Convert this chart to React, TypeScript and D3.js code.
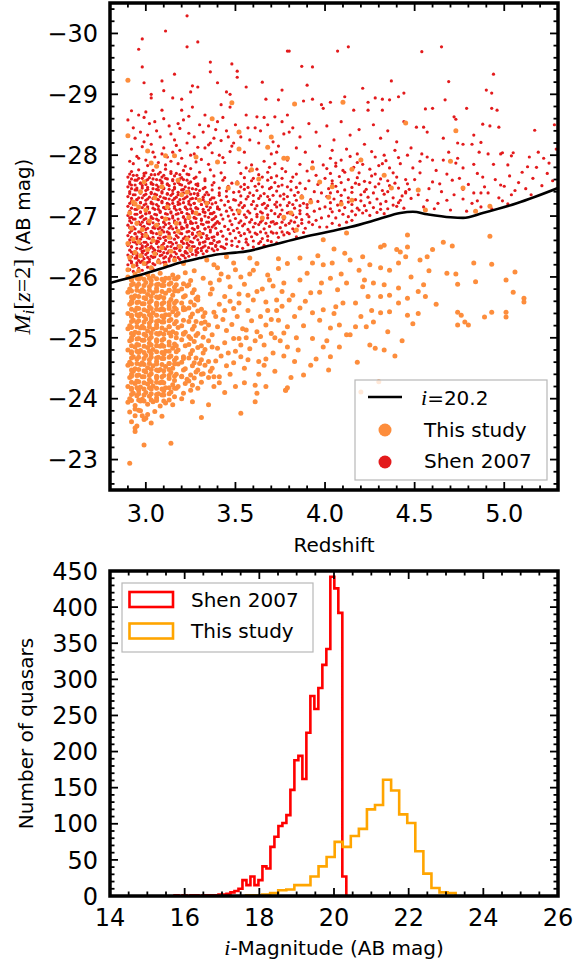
import React from 'react';
import * as d3 from 'd3';

// ---------------- DATA ----------------
// i = 20.2 limit curve (redshift, absolute magnitude)
const LIMIT_Z = [2.80, 2.90, 3.00, 3.11, 3.20, 3.30, 3.38, 3.50, 3.56, 3.70, 3.86, 4.00, 4.14, 4.30, 4.42, 4.49, 4.57, 4.70, 4.77, 4.88, 5.07, 5.30];
const LIMIT_M = [-25.90, -25.98, -26.06, -26.16, -26.24, -26.31, -26.36, -26.40, -26.42, -26.52, -26.64, -26.73, -26.82, -26.95, -27.05, -27.07, -27.03, -26.98, -26.97, -27.05, -27.21, -27.46];

// Shen 2007 quasars: "redshift |M_i|" pairs (M_i is negative)
const SHEN_2007_PTS = `
3.23 30.29 3.11 30.04 2.98 29.91 3.29 29.86 3.23 29.78 2.96 29.74 3.80 29.71 2.98 29.45 3.36 29.53 3.48 29.50
3.51 29.38 3.36 29.37 3.16 29.33 3.09 29.22 2.99 29.19 3.26 29.14 3.29 29.12 3.40 29.19 3.51 29.28 3.65 29.20
3.76 29.07 3.56 29.12 3.45 29.04 3.47 29.00 3.03 29.00 3.03 28.94 3.10 29.06 3.15 28.94 3.20 28.92 3.25 29.04
3.67 28.92 3.74 28.91 3.42 28.83 3.47 28.79 3.26 28.79 3.20 28.74 3.09 28.74 3.00 28.71 2.92 28.73 2.96 28.66
3.33 28.66 3.56 28.66 3.62 28.63 3.72 28.63 3.79 28.66
3.79 29.71 4.07 29.71 4.13 29.78 4.54 29.70 4.65 29.78 3.87 29.46 3.93 29.45 4.37 29.22 4.69 29.21 4.94 29.33
4.90 29.07 4.93 29.02 4.21 29.10 4.44 29.02 4.41 28.96 3.90 29.15 4.11 28.96 4.28 28.94 4.32 28.92 4.36 28.91
4.67 28.91 3.88 28.89 3.93 28.92 4.03 28.87 4.24 28.87 3.98 28.83 3.99 28.77 4.16 28.74 4.24 28.74 4.32 28.74
4.56 28.76 4.60 28.77 4.79 28.77 4.93 28.77 4.96 28.74 4.72 28.63 4.73 28.59 4.88 28.51 4.92 28.48 4.97 28.46
4.83 28.33 5.17 28.41 5.28 28.50 4.51 28.46 4.55 28.46 4.57 28.38 4.66 28.28 4.74 28.20 4.77 28.18 4.82 28.18
4.87 28.21 4.86 28.05 4.91 28.02 4.99 28.04 5.05 28.04 5.14 27.97 5.19 28.05 5.25 27.87 5.13 27.81 5.02 27.84
5.03 27.66 4.98 27.51 4.88 27.64 4.83 27.38 4.87 27.38 4.91 27.38 4.77 27.44 4.71 27.59 4.68 27.69 4.64 27.53
4.60 27.56 4.53 27.71 4.49 27.79 4.46 27.53 4.45 27.40 4.42 27.26 4.38 27.18 4.57 27.26 4.63 27.21 4.68 27.26
4.77 27.28 4.82 27.21 4.87 27.15 4.97 27.30 5.04 27.35 5.00 27.49 4.60 27.92 4.66 27.92 4.54 28.02 4.57 27.97
4.73 27.87 4.77 27.79 4.83 27.85 4.98 28.02 5.04 27.99
3.82 28.45 3.86 28.30 3.91 28.52 3.95 28.38 4.01 28.48 4.05 28.25 4.09 28.55 4.14 28.33 4.19 28.42 4.22 28.18
4.27 28.50 4.31 28.28 4.35 28.40 4.40 28.22 4.44 28.55 4.48 28.12 3.84 28.12 3.89 28.05 3.97 28.15 4.04 28.08
4.12 28.10 4.18 28.02 4.26 28.06 4.33 28.00 4.39 28.08 4.46 28.00
5.08 27.55 5.12 27.45 5.16 27.62 5.21 27.50 5.24 27.70 5.27 27.58 5.10 27.72 5.18 27.80 5.22 27.95 5.29 28.10
5.06 27.42 5.15 27.35
4.52 27.35 4.55 27.15 4.58 27.45 4.61 27.12 4.65 27.40 4.70 27.10 4.72 27.35 4.75 27.62 4.79 27.08 4.80 27.52
4.85 27.25 4.89 27.48 4.93 27.12 4.95 27.60 4.99 27.25 5.02 27.20 4.50 27.60 4.62 27.75 4.74 27.95 4.85 27.70
4.94 27.85 4.53 27.90 4.69 28.05
4.01 26.82 4.04 26.88 4.08 26.85 4.12 26.90 4.15 26.93
4.02 27.00 4.06 26.97 4.10 27.03 4.13 26.99 4.17 27.02 4.21 27.05 4.25 27.01 4.29 27.06 4.33 27.04
4.00 27.15 4.03 27.12 4.07 27.18 4.11 27.14 4.15 27.19 4.18 27.13 4.22 27.17 4.27 27.14 4.31 27.20 4.35 27.12 4.40 27.16 4.44 27.13
4.01 27.32 4.05 27.28 4.09 27.34 4.13 27.30 4.17 27.27 4.20 27.35 4.24 27.31 4.29 27.28 4.33 27.36 4.38 27.30 4.43 27.33 4.48 27.29
4.02 27.45 4.06 27.49 4.11 27.43 4.15 27.47 4.19 27.52 4.23 27.44 4.28 27.48 4.32 27.42 4.36 27.50 4.41 27.46 4.47 27.44
4.00 27.62 4.04 27.58 4.08 27.65 4.13 27.60 4.18 27.63 4.22 27.57 4.26 27.66 4.31 27.61 4.35 27.58 4.40 27.64 4.45 27.60
4.01 27.78 4.06 27.82 4.10 27.75 4.16 27.80 4.21 27.85 4.25 27.77 4.30 27.83 4.36 27.79 4.42 27.86
4.03 27.95 4.09 27.92 4.14 27.98 4.20 27.93 4.28 27.97 4.34 27.91 4.41 27.96
4.04 27.07 4.08 27.09 4.15 27.08 4.19 27.10 4.23 27.09 4.31 27.11
4.03 27.22 4.09 27.24 4.13 27.23 4.20 27.25 4.25 27.22 4.34 27.24 4.41 27.22
4.03 27.38 4.07 27.40 4.15 27.39 4.22 27.40 4.27 27.38 4.35 27.40 4.45 27.38
4.04 27.53 4.09 27.55 4.17 27.54 4.25 27.55 4.30 27.53 4.39 27.54
4.03 27.70 4.11 27.72 4.19 27.71 4.28 27.69 4.38 27.71
4.06 27.87 4.18 27.88 4.32 27.86
3.51 26.50 3.54 26.47 3.57 26.53 3.60 26.49 3.63 26.55 3.66 26.52 3.70 26.58 3.73 26.56
3.50 26.64 3.53 26.68 3.56 26.62 3.59 26.66 3.62 26.70 3.65 26.63 3.68 26.67 3.71 26.72 3.74 26.65 3.77 26.69 3.80 26.71 3.84 26.66 3.88 26.73
3.51 26.80 3.54 26.84 3.57 26.78 3.60 26.82 3.63 26.86 3.66 26.79 3.69 26.83 3.72 26.87 3.75 26.81 3.78 26.85 3.82 26.79 3.85 26.84 3.89 26.80 3.93 26.86 3.97 26.82
3.50 26.96 3.53 26.92 3.56 26.98 3.59 26.94 3.62 26.99 3.65 26.93 3.68 26.97 3.71 26.91 3.74 26.99 3.77 26.95 3.81 26.92 3.84 26.98 3.87 26.94 3.91 26.99 3.95 26.93 3.98 26.97
3.51 27.10 3.54 27.14 3.57 27.08 3.61 27.12 3.64 27.07 3.67 27.13 3.70 27.09 3.73 27.15 3.76 27.10 3.80 27.06 3.83 27.13 3.86 27.09 3.90 27.14 3.94 27.08 3.97 27.12
3.50 27.26 3.53 27.22 3.56 27.28 3.60 27.24 3.63 27.29 3.66 27.21 3.69 27.27 3.73 27.23 3.77 27.28 3.80 27.22 3.84 27.26 3.88 27.21 3.92 27.27 3.96 27.24
3.52 27.40 3.55 27.44 3.58 27.38 3.62 27.42 3.66 27.37 3.69 27.45 3.73 27.41 3.77 27.36 3.81 27.43 3.85 27.39 3.89 27.45 3.94 27.40 3.98 27.38
3.51 27.56 3.55 27.52 3.59 27.58 3.63 27.53 3.68 27.59 3.72 27.55 3.76 27.51 3.81 27.57 3.86 27.54 3.91 27.58 3.96 27.52
3.53 27.70 3.58 27.74 3.63 27.68 3.68 27.72 3.73 27.66 3.78 27.73 3.84 27.69 3.90 27.74 3.95 27.67
3.52 27.88 3.59 27.84 3.66 27.90 3.72 27.86 3.79 27.92 3.86 27.85 3.93 27.89 3.99 27.84
3.52 26.58 3.56 26.57 3.60 26.59 3.64 26.58 3.68 26.60
3.52 26.73 3.55 26.71 3.58 26.74 3.61 26.72 3.64 26.74 3.67 26.72 3.70 26.74 3.73 26.72 3.76 26.74 3.79 26.73 3.83 26.75
3.52 26.89 3.55 26.87 3.58 26.90 3.61 26.88 3.64 26.90 3.67 26.88 3.70 26.90 3.73 26.88 3.76 26.90 3.80 26.88 3.83 26.90 3.87 26.88 3.91 26.90
3.52 27.04 3.55 27.02 3.58 27.05 3.62 27.03 3.65 27.05 3.68 27.02 3.72 27.04 3.75 27.03 3.79 27.05 3.82 27.02 3.86 27.04 3.90 27.03
3.52 27.18 3.55 27.17 3.59 27.19 3.62 27.17 3.65 27.19 3.68 27.17 3.72 27.19 3.75 27.18 3.79 27.17 3.82 27.19 3.86 27.17 3.90 27.19
3.53 27.33 3.57 27.32 3.60 27.34 3.64 27.33 3.68 27.32 3.71 27.34 3.75 27.33 3.79 27.32 3.83 27.34 3.87 27.33
3.53 27.48 3.57 27.47 3.61 27.49 3.65 27.48 3.70 27.47 3.74 27.49 3.79 27.48 3.84 27.47
3.55 27.63 3.60 27.62 3.65 27.64 3.70 27.63 3.76 27.62 3.82 27.64
3.56 27.79 3.62 27.77 3.69 27.80 3.76 27.78
3.55 28.05 3.63 28.20 3.70 28.02 3.77 28.35 3.61 28.45 3.53 28.30 3.74 28.15 3.68 28.50
3.58 28.25 3.64 28.40 3.71 28.22 3.76 28.55 3.66 28.62 3.80 28.38 3.57 28.45 3.73 28.05
2.91 26.12 2.93 26.09 2.96 26.14 2.98 26.11 3.01 26.16 3.04 26.13
2.90 26.20 2.92 26.23 2.95 26.19 2.97 26.24 3.00 26.21 3.02 26.25 3.05 26.20 3.08 26.23 3.11 26.24
2.91 26.28 2.94 26.31 2.96 26.27 2.99 26.30 3.02 26.29 3.04 26.32 3.07 26.28 3.10 26.31 3.13 26.30 3.16 26.32 3.19 26.29 3.22 26.31
2.90 26.36 2.93 26.38 2.95 26.35 2.98 26.39 3.00 26.37 3.03 26.34 3.06 26.38 3.09 26.36 3.12 26.39 3.14 26.35 3.17 26.38 3.20 26.36 3.23 26.39 3.26 26.37 3.29 26.40 3.32 26.38
2.91 26.44 2.94 26.42 2.97 26.46 2.99 26.43 3.02 26.47 3.05 26.44 3.08 26.42 3.11 26.46 3.13 26.43 3.16 26.47 3.19 26.44 3.22 26.42 3.25 26.46 3.28 26.44 3.31 26.47 3.34 26.43 3.37 26.46 3.40 26.45 3.44 26.47
2.90 26.52 2.92 26.50 2.95 26.54 2.98 26.51 3.01 26.53 3.03 26.50 3.06 26.55 3.09 26.52 3.12 26.50 3.15 26.54 3.18 26.51 3.21 26.55 3.24 26.52 3.27 26.50 3.30 26.54 3.33 26.51 3.36 26.55 3.39 26.52 3.42 26.50 3.45 26.54 3.48 26.52
2.91 26.61 2.93 26.58 2.97 26.62 2.99 26.57 3.02 26.63 3.06 26.59 3.07 26.64 3.11 26.60 3.14 26.57 3.16 26.62 3.20 26.59 3.23 26.64 3.25 26.58 3.29 26.61 3.32 26.57 3.35 26.63 3.38 26.60 3.41 26.58 3.45 26.62 3.48 26.59
2.90 26.68 2.94 26.71 2.95 26.66 2.98 26.70 3.01 26.67 3.04 26.72 3.08 26.69 3.10 26.65 3.13 26.70 3.17 26.68 3.19 26.72 3.22 26.66 3.26 26.70 3.28 26.67 3.31 26.71 3.34 26.68 3.37 26.65 3.40 26.70 3.43 26.67 3.47 26.71
2.92 26.76 2.93 26.79 2.96 26.74 3.00 26.78 3.03 26.75 3.05 26.80 3.09 26.77 3.12 26.74 3.15 26.79 3.18 26.76 3.21 26.80 3.24 26.75 3.27 26.78 3.30 26.74 3.33 26.79 3.36 26.77 3.39 26.80 3.42 26.75 3.46 26.78 3.49 26.76
2.90 26.85 2.93 26.82 2.97 26.86 2.99 26.83 3.02 26.87 3.05 26.84 3.08 26.81 3.11 26.86 3.14 26.83 3.17 26.87 3.20 26.82 3.23 26.85 3.26 26.88 3.29 26.83 3.32 26.86 3.35 26.82 3.38 26.85 3.41 26.88 3.44 26.83 3.48 26.86
2.91 26.92 2.94 26.95 2.96 26.90 2.99 26.94 3.01 26.91 3.04 26.96 3.07 26.93 3.10 26.90 3.13 26.95 3.16 26.92 3.19 26.89 3.22 26.94 3.25 26.91 3.28 26.96 3.31 26.93 3.34 26.90 3.37 26.94 3.40 26.91 3.43 26.95 3.47 26.92
2.90 27.01 2.92 26.98 2.95 27.03 2.98 27.00 3.00 27.04 3.03 26.99 3.06 27.02 3.09 26.98 3.12 27.03 3.15 27.00 3.18 27.04 3.21 26.99 3.24 27.02 3.27 26.98 3.30 27.03 3.33 27.00 3.36 27.04 3.39 26.99 3.42 27.02 3.46 27.00 3.49 27.03
2.91 27.08 2.94 27.11 2.97 27.07 3.00 27.10 3.02 27.06 3.05 27.11 3.08 27.08 3.11 27.12 3.14 27.07 3.17 27.10 3.20 27.06 3.23 27.11 3.26 27.08 3.29 27.12 3.32 27.07 3.35 27.10 3.38 27.06 3.41 27.11 3.45 27.08 3.48 27.10
2.90 27.16 2.93 27.19 2.96 27.14 2.99 27.18 3.01 27.15 3.04 27.20 3.07 27.16 3.10 27.14 3.13 27.19 3.16 27.16 3.19 27.20 3.22 27.15 3.25 27.18 3.28 27.14 3.31 27.19 3.34 27.16 3.37 27.20 3.40 27.15 3.44 27.18 3.47 27.14
2.92 27.24 2.95 27.27 2.97 27.22 3.00 27.26 3.03 27.23 3.06 27.28 3.09 27.24 3.12 27.21 3.15 27.26 3.18 27.23 3.21 27.28 3.24 27.24 3.27 27.21 3.30 27.26 3.33 27.23 3.36 27.27 3.39 27.22 3.42 27.26 3.46 27.24 3.49 27.27
2.90 27.32 2.93 27.35 2.96 27.30 2.99 27.34 3.02 27.31 3.05 27.36 3.08 27.32 3.11 27.29 3.14 27.34 3.17 27.31 3.20 27.36 3.23 27.32 3.26 27.29 3.29 27.34 3.32 27.31 3.35 27.35 3.38 27.30 3.41 27.34 3.45 27.32
2.91 27.40 2.94 27.43 2.97 27.38 3.00 27.42 3.03 27.39 3.06 27.44 3.09 27.40 3.12 27.37 3.15 27.42 3.18 27.39 3.21 27.44 3.24 27.40 3.27 27.37 3.30 27.42 3.34 27.39 3.37 27.43 3.41 27.38 3.45 27.41 3.49 27.39
2.90 27.48 2.92 27.51 2.95 27.46 2.98 27.50 3.01 27.47 3.04 27.52 3.07 27.48 3.10 27.45 3.13 27.50 3.16 27.47 3.19 27.52 3.22 27.48 3.26 27.45 3.29 27.50 3.33 27.47 3.37 27.51 3.41 27.46 3.46 27.49
2.91 27.56 2.94 27.59 2.97 27.54 3.00 27.58 3.03 27.55 3.06 27.60 3.09 27.56 3.12 27.53 3.15 27.58 3.18 27.55 3.21 27.60 3.25 27.56 3.29 27.53 3.33 27.58 3.38 27.55 3.43 27.59 3.48 27.54
2.90 27.64 2.93 27.67 2.96 27.62 2.99 27.66 3.02 27.63 3.05 27.68 3.09 27.64 3.12 27.61 3.16 27.66 3.20 27.63 3.24 27.68 3.28 27.64 3.33 27.61 3.38 27.66 3.44 27.63
2.92 27.73 2.96 27.76 3.00 27.71 3.04 27.75 3.08 27.72 3.11 27.77 3.14 27.73 3.17 27.70 3.21 27.75 3.25 27.78 3.30 27.72 3.36 27.76 3.42 27.71
2.92 26.25 2.95 26.23 2.98 26.26 3.01 26.24 3.04 26.22 3.07 26.26 3.10 26.24 3.13 26.26 3.16 26.27
2.92 26.33 2.95 26.31 2.98 26.34 3.01 26.32 3.05 26.33 3.08 26.35 3.11 26.33 3.14 26.34 3.18 26.32 3.21 26.35 3.24 26.34 3.28 26.36
2.92 26.41 2.95 26.39 2.98 26.42 3.01 26.40 3.04 26.41 3.07 26.43 3.10 26.40 3.13 26.42 3.16 26.41 3.19 26.43 3.22 26.40 3.25 26.42 3.28 26.41 3.31 26.43 3.34 26.42 3.38 26.43
2.92 26.49 2.95 26.47 2.98 26.48 3.00 26.50 3.04 26.47 3.07 26.49 3.10 26.48 3.14 26.50 3.17 26.47 3.20 26.49 3.23 26.48 3.26 26.50 3.29 26.47 3.32 26.49 3.35 26.48 3.39 26.50 3.43 26.49
2.91 26.56 2.94 26.57 2.97 26.55 3.00 26.57 3.03 26.56 3.07 26.58 3.10 26.55 3.13 26.57 3.17 26.56 3.20 26.58 3.23 26.55 3.26 26.57 3.30 26.56 3.33 26.58 3.37 26.55 3.40 26.57
2.92 26.65 2.95 26.63 2.98 26.66 3.01 26.64 3.04 26.65 3.08 26.63 3.11 26.66 3.14 26.64 3.18 26.65 3.21 26.63 3.24 26.66 3.27 26.64 3.31 26.65 3.34 26.63 3.38 26.66
2.91 26.73 2.94 26.71 2.97 26.74 3.00 26.72 3.03 26.73 3.06 26.71 3.10 26.74 3.13 26.72 3.16 26.73 3.20 26.71 3.23 26.74 3.26 26.72 3.29 26.73 3.32 26.71 3.36 26.74 3.40 26.72
2.91 26.81 2.94 26.79 2.98 26.82 3.01 26.80 3.04 26.81 3.07 26.79 3.10 26.82 3.13 26.80 3.17 26.81 3.20 26.79 3.23 26.82 3.26 26.80 3.29 26.81 3.33 26.79 3.37 26.82
2.92 26.89 2.95 26.87 2.98 26.90 3.01 26.88 3.04 26.89 3.07 26.87 3.10 26.90 3.13 26.88 3.16 26.89 3.19 26.87 3.22 26.90 3.25 26.88 3.28 26.89 3.31 26.87 3.35 26.90 3.39 26.88
2.91 26.97 2.93 26.95 2.97 26.98 3.00 26.96 3.03 26.97 3.06 26.95 3.09 26.98 3.12 26.96 3.15 26.97 3.18 26.95 3.21 26.98 3.24 26.96 3.27 26.97 3.31 26.95 3.35 26.98 3.38 26.96
2.91 27.05 2.94 27.03 2.97 27.06 3.00 27.04 3.02 27.05 3.05 27.03 3.08 27.06 3.11 27.04 3.14 27.05 3.17 27.03 3.20 27.06 3.23 27.04 3.26 27.05 3.29 27.03 3.33 27.06 3.37 27.04
2.92 27.13 2.95 27.11 2.98 27.14 3.01 27.12 3.04 27.13 3.07 27.11 3.10 27.14 3.13 27.12 3.16 27.13 3.19 27.11 3.22 27.14 3.25 27.12 3.28 27.13 3.32 27.11 3.36 27.14 3.40 27.12
2.91 27.21 2.94 27.19 2.97 27.22 3.00 27.20 3.03 27.21 3.06 27.19 3.09 27.22 3.12 27.20 3.15 27.21 3.18 27.19 3.21 27.22 3.24 27.20 3.27 27.21 3.31 27.19 3.35 27.22
2.92 27.29 2.95 27.27 2.98 27.30 3.01 27.28 3.04 27.29 3.07 27.27 3.10 27.30 3.13 27.28 3.16 27.29 3.19 27.27 3.22 27.30 3.25 27.28 3.28 27.29 3.32 27.27 3.37 27.30
2.91 27.37 2.94 27.35 2.97 27.38 3.00 27.36 3.03 27.37 3.06 27.35 3.09 27.38 3.12 27.36 3.15 27.37 3.18 27.35 3.21 27.38 3.25 27.36 3.29 27.37 3.33 27.35
2.92 27.45 2.95 27.43 2.98 27.46 3.01 27.44 3.04 27.45 3.07 27.43 3.10 27.46 3.13 27.44 3.16 27.45 3.20 27.43 3.24 27.46 3.28 27.44 3.32 27.45
2.91 27.53 2.94 27.51 2.97 27.54 3.00 27.52 3.03 27.53 3.06 27.51 3.09 27.54 3.12 27.52 3.16 27.53 3.20 27.51 3.24 27.54 3.28 27.52
2.92 27.61 2.95 27.59 2.98 27.62 3.01 27.60 3.04 27.61 3.08 27.59 3.11 27.62 3.15 27.60 3.19 27.61 3.23 27.59 3.27 27.62
2.91 27.69 2.95 27.67 2.99 27.70 3.03 27.68 3.07 27.69 3.10 27.67 3.14 27.70 3.19 27.68 3.23 27.69
2.93 27.86 3.01 27.83 3.07 27.88 3.11 27.84 3.14 27.90 3.18 27.86 3.22 27.82 3.28 27.89 3.35 27.85 3.44 27.88
2.95 27.98 3.04 28.05 3.12 27.97 3.19 28.08 3.27 28.02 3.33 28.12 3.41 28.00 3.48 28.15 2.99 28.22 3.08 28.30
3.16 28.25 3.24 28.36 3.38 28.28 3.45 28.40 2.93 28.45 3.02 28.52 3.13 28.48 3.21 28.58 3.30 28.50 3.40 28.55
2.97 28.38 3.36 28.20
2.91 27.90 2.96 27.95 3.00 27.92 3.05 27.97 3.09 28.02 3.15 28.05 3.20 27.95 3.25 28.00 3.31 27.93 3.37 28.04
3.43 27.96 3.47 28.06 2.92 28.10 2.98 28.14 3.03 28.18 3.10 28.12 3.17 28.16 3.23 28.20 3.29 28.13 3.35 28.17
3.42 28.24 3.49 28.20 2.94 28.28 3.01 28.33 3.06 28.40 3.14 28.35 3.19 28.44 3.27 28.30 3.32 28.38 3.39 28.42
3.46 28.30 2.90 28.58 2.99 28.62 3.05 28.55 3.10 28.60 3.18 28.52 3.24 28.64 3.35 28.48 3.43 28.62 3.50 28.50
`;

// This study quasars: "redshift |M_i|" pairs (M_i is negative)
const THIS_STUDY_PTS = `
2.91 22.94 2.99 23.24 3.14 23.27 3.31 23.69 3.53 23.76 2.94 23.52 2.94 23.46 2.98 23.72 3.00 23.68 2.96 23.81
2.94 23.83 2.92 23.62 2.95 23.55 2.99 23.66 3.03 23.60 2.91 23.78 2.94 23.72 2.97 23.80 3.01 23.74 3.05 23.79 3.09 23.71
2.90 23.94 2.94 23.89 2.97 23.96 3.01 23.91 3.04 23.95 3.08 23.88 3.11 23.93 3.15 23.90
2.91 24.00 2.95 24.05 2.98 23.99 3.02 24.04 3.06 24.01 3.09 24.06 3.13 23.98 3.16 24.03 3.20 24.00
2.92 24.15 2.93 24.09 2.96 24.14 3.00 24.10 3.03 24.16 3.07 24.08 3.10 24.13 3.14 24.11 3.17 24.17 3.21 24.09 3.25 24.14
2.90 24.20 2.94 24.25 2.97 24.19 3.01 24.24 3.04 24.21 3.08 24.26 3.11 24.18 3.15 24.23 3.18 24.20 3.22 24.25 3.26 24.22 3.29 24.17
2.91 24.35 2.95 24.29 2.98 24.36 3.02 24.31 3.06 24.34 3.09 24.28 3.13 24.33 3.16 24.30 3.20 24.37 3.24 24.29 3.27 24.34 3.31 24.27 3.35 24.35
2.92 24.40 2.93 24.45 2.96 24.39 3.00 24.44 3.03 24.41 3.07 24.46 3.10 24.38 3.14 24.43 3.17 24.40 3.21 24.47 3.25 24.39 3.28 24.44 3.32 24.41
2.90 24.55 2.94 24.49 2.97 24.56 3.01 24.51 3.04 24.54 3.08 24.48 3.11 24.53 3.15 24.50 3.18 24.57 3.22 24.49 3.26 24.54 3.29 24.47 3.33 24.55
2.91 24.60 2.95 24.65 2.98 24.59 3.02 24.64 3.06 24.61 3.09 24.66 3.13 24.58 3.16 24.63 3.20 24.60 3.24 24.67 3.27 24.59 3.31 24.64 3.35 24.61
2.92 24.75 2.93 24.69 2.96 24.76 3.00 24.71 3.03 24.74 3.07 24.68 3.10 24.73 3.14 24.70 3.17 24.77 3.21 24.69 3.25 24.74 3.28 24.67 3.32 24.75
2.90 24.80 2.94 24.85 2.97 24.79 3.01 24.84 3.04 24.81 3.08 24.86 3.11 24.78 3.15 24.83 3.18 24.80 3.22 24.87 3.26 24.79 3.29 24.84 3.33 24.81
2.91 24.95 2.95 24.89 2.98 24.96 3.02 24.91 3.06 24.94 3.09 24.88 3.13 24.93 3.16 24.90 3.20 24.97 3.24 24.89 3.27 24.94 3.31 24.87 3.35 24.95
2.92 25.00 2.93 25.05 2.96 24.99 3.00 25.04 3.03 25.01 3.07 25.06 3.10 24.98 3.14 25.03 3.17 25.00 3.21 25.07 3.25 24.99 3.28 25.04 3.32 25.01
2.90 25.15 2.94 25.09 2.97 25.16 3.01 25.11 3.04 25.14 3.08 25.08 3.11 25.13 3.15 25.10 3.18 25.17 3.22 25.09 3.26 25.14 3.29 25.07 3.33 25.15
2.91 25.20 2.95 25.25 2.98 25.19 3.02 25.24 3.06 25.21 3.09 25.26 3.13 25.18 3.16 25.23 3.20 25.20 3.24 25.27 3.27 25.19 3.31 25.24 3.35 25.21
2.92 25.35 2.93 25.29 2.96 25.36 3.00 25.31 3.03 25.34 3.07 25.28 3.10 25.33 3.14 25.30 3.17 25.37 3.21 25.29 3.25 25.34 3.28 25.27 3.32 25.35
2.90 25.40 2.94 25.45 2.97 25.39 3.01 25.44 3.04 25.41 3.08 25.46 3.11 25.38 3.15 25.43 3.18 25.40 3.22 25.47 3.26 25.39 3.29 25.44 3.33 25.41
2.91 25.55 2.95 25.49 2.98 25.56 3.02 25.51 3.06 25.54 3.09 25.48 3.13 25.53 3.16 25.50 3.20 25.57 3.24 25.49 3.27 25.54 3.31 25.47
2.92 25.60 2.93 25.65 2.96 25.59 3.00 25.64 3.03 25.61 3.07 25.66 3.10 25.58 3.14 25.63 3.17 25.60 3.21 25.67 3.25 25.59 3.28 25.64
2.90 25.75 2.94 25.69 2.97 25.76 3.01 25.71 3.04 25.74 3.08 25.68 3.11 25.73 3.15 25.70 3.18 25.77 3.22 25.69 3.26 25.74 3.29 25.67
2.91 25.80 2.95 25.85 2.98 25.79 3.02 25.84 3.06 25.81 3.09 25.86 3.13 25.78 3.16 25.83 3.20 25.80 3.24 25.87 3.27 25.79
2.92 25.95 2.93 25.89 2.96 25.96 3.00 25.91 3.03 25.94 3.07 25.88 3.10 25.93 3.14 25.90 3.17 25.97 3.21 25.89 3.25 25.94
2.90 26.00 2.94 26.05 2.97 25.99 3.01 26.04 3.04 26.01 3.08 26.06 3.11 25.98 3.15 26.03 3.18 26.00 3.22 26.07
2.92 23.97 2.96 23.98 2.99 23.96 3.03 23.98 3.06 23.97 3.10 23.96
2.92 24.07 2.96 24.08 2.99 24.06 3.03 24.08 3.06 24.07 3.10 24.06 3.13 24.08
2.92 24.17 2.95 24.18 2.99 24.16 3.02 24.18 3.06 24.17 3.09 24.16 3.13 24.18 3.16 24.17
2.92 24.27 2.96 24.28 2.99 24.26 3.03 24.28 3.06 24.27 3.10 24.26
2.92 24.37 2.95 24.38 2.99 24.36 3.02 24.38 3.06 24.37 3.09 24.36 3.13 24.38 3.16 24.37 3.20 24.36
2.92 24.47 2.96 24.48 2.99 24.46 3.03 24.48 3.06 24.47 3.10 24.46 3.13 24.48
2.92 24.57 2.95 24.58 2.99 24.56 3.02 24.58 3.06 24.57 3.09 24.56 3.13 24.58 3.16 24.57
2.92 24.67 2.96 24.68 2.99 24.66 3.03 24.68 3.06 24.67 3.10 24.66 3.13 24.68 3.17 24.67 3.21 24.66
2.92 24.77 2.95 24.78 2.99 24.76 3.02 24.78 3.06 24.77 3.09 24.76 3.13 24.78
2.92 24.87 2.96 24.88 2.99 24.86 3.03 24.88 3.06 24.87 3.10 24.86 3.13 24.88 3.17 24.87
2.92 24.97 2.95 24.98 2.99 24.96 3.02 24.98 3.06 24.97 3.09 24.96
2.92 25.07 2.96 25.08 2.99 25.06 3.03 25.08 3.06 25.07 3.10 25.06 3.13 25.08 3.17 25.07 3.21 25.06
2.92 25.17 2.95 25.18 2.99 25.16 3.02 25.18 3.06 25.17 3.09 25.16 3.13 25.18
2.92 25.27 2.96 25.28 2.99 25.26 3.03 25.28 3.06 25.27 3.10 25.26 3.13 25.28 3.17 25.27
2.92 25.37 2.95 25.38 2.99 25.36 3.02 25.38 3.06 25.37 3.09 25.36 3.13 25.38
2.92 25.47 2.96 25.48 2.99 25.46 3.03 25.48 3.06 25.47 3.10 25.46 3.13 25.48 3.17 25.47 3.21 25.46
2.92 25.57 2.95 25.58 2.99 25.56 3.02 25.58 3.06 25.57 3.09 25.56 3.13 25.58 3.16 25.57
2.92 25.67 2.96 25.68 2.99 25.66 3.03 25.68 3.06 25.67 3.10 25.66
2.92 25.77 2.95 25.78 2.99 25.76 3.02 25.78 3.06 25.77 3.09 25.76 3.13 25.78 3.16 25.77
2.92 25.87 2.96 25.88 2.99 25.86 3.03 25.88 3.06 25.87 3.10 25.86 3.13 25.88 3.17 25.87
2.92 25.97 2.95 25.98 2.99 25.96 3.02 25.98 3.06 25.97 3.09 25.96 3.13 25.98 3.16 25.97
3.23 24.32 3.30 24.58 3.37 24.85 3.24 25.02 3.33 25.26 3.39 25.35 3.21 25.50 3.29 25.62 3.36 25.72 3.23 25.85
3.32 25.98 3.27 26.10 3.34 26.28 3.40 26.15 3.44 25.45 3.31 24.40 3.38 24.20 3.26 23.95 3.44 24.10 3.35 23.90
2.90 26.12 2.93 26.18 2.96 26.10 2.99 26.22 3.03 26.15 3.07 26.25 3.11 26.19 3.16 26.28 3.21 26.22
2.91 26.32 2.94 26.40 2.97 26.35 3.01 26.45 3.05 26.38 3.09 26.48 3.14 26.42 3.19 26.50 3.25 26.45
2.90 26.55 2.93 26.62 2.96 26.58 3.00 26.68 3.04 26.60 3.08 26.72 3.13 26.65 3.18 26.75 3.23 26.62 3.30 26.70
2.92 26.80 2.95 26.88 2.98 26.78 3.02 26.92 3.06 26.85 3.11 26.95 3.17 26.88 3.24 26.98
2.91 27.05 2.94 27.20 3.00 27.10 3.05 27.30 3.12 27.15 3.20 27.35 2.97 27.40 3.09 27.48
3.38 24.36 3.41 24.26 3.50 24.20 3.55 24.26 3.61 24.22 3.67 24.20 3.62 24.09 3.61 23.95 3.78 24.14 3.67 24.65
3.71 24.75 3.63 24.61 3.57 24.64 3.53 24.69 3.49 24.59 3.45 24.54 3.41 24.36 3.37 24.50 3.46 24.75 3.40 24.83
3.49 24.99 3.52 24.99 3.56 25.13 3.62 25.10 3.67 25.21 3.70 25.07 3.74 25.29 3.79 25.18 3.73 25.62 3.76 25.76
3.67 25.59 3.62 25.76 3.57 25.70 3.52 25.57 3.47 25.84 3.41 25.95 3.53 26.00 3.60 26.11 3.68 26.03 3.74 26.14
3.79 26.22 3.49 26.23 3.38 26.20 3.45 26.33 3.58 26.31
3.77 25.90 3.80 25.62 3.83 25.35 3.77 25.08 3.79 24.85 3.83 24.61 3.86 26.31 3.90 26.06 3.93 26.23 3.99 26.20
4.04 26.23 3.98 25.90 4.03 25.98 4.07 25.79 4.12 25.90 3.92 25.74 3.86 25.49 3.93 25.41 3.99 25.46 4.06 25.51
4.10 25.57 3.97 25.29 4.03 25.16 4.08 25.21 4.12 25.05 4.17 25.18 4.20 25.35 3.93 24.99 3.99 24.85 4.03 24.69
3.92 24.55 3.88 24.39 4.02 24.47 4.08 24.85 4.25 24.88 4.28 24.83 4.33 24.80 4.39 24.70 4.23 25.18 4.27 25.26
4.31 25.41 4.36 25.43 4.41 25.57 4.46 25.65 4.49 25.23 4.46 25.37 4.17 25.57 4.24 25.68 4.31 25.68 4.36 25.70
4.21 25.84 4.27 25.90 4.33 25.87 4.41 25.82 4.55 25.87 4.56 25.68 4.52 25.76 4.19 26.11 4.25 26.20 4.31 26.15
4.36 26.11 4.41 26.23 4.45 26.33 4.53 26.28 4.57 26.33 4.14 26.28 4.21 26.33 4.20 24.11 4.30 24.28 3.78 24.14
3.79 24.18
3.36 24.45 3.39 24.62 3.42 24.70 3.44 24.92 3.37 25.05 3.40 25.18 3.43 25.30 3.38 25.42 3.41 25.55 3.44 25.68
3.37 25.80 3.42 26.05 3.36 25.90 3.45 25.12 3.47 24.40 3.50 24.78 3.48 25.22 3.51 25.35 3.49 25.48 3.52 25.72
3.50 26.12 3.46 26.00 3.53 24.88 3.47 25.60 3.55 24.50 3.58 24.82 3.56 25.00 3.59 25.28 3.57 25.45 3.60 25.62
3.55 25.88 3.58 26.05 3.61 24.95 3.54 25.15 3.63 24.40 3.66 24.88 3.64 25.35 3.68 25.45 3.65 25.80 3.69 25.95
3.62 26.22 3.66 24.55 3.70 25.30 3.64 25.02 3.72 24.45 3.75 24.95 3.73 25.45 3.76 25.52 3.71 25.85 3.74 26.30
3.72 25.00 3.77 24.70 3.81 24.35 3.84 25.00 3.82 25.70 3.86 25.95 3.88 25.20 3.85 24.80 3.89 25.60 3.95 24.65
3.97 25.75 3.96 26.35 4.01 24.95 4.05 25.40 4.09 26.05 4.14 25.05 4.18 24.60 4.22 25.95 4.26 25.45 4.35 25.10
4.40 26.45 4.43 24.95 4.48 26.00 4.52 25.40 4.58 26.10 4.62 25.55 4.60 26.45
2.90 29.23 3.48 28.86 3.37 28.60 2.90 28.32 3.52 28.38 3.70 28.30 3.01 28.07 3.11 27.99 3.16 27.99 3.03 27.87
3.06 27.82 3.28 27.97 3.52 28.10 3.77 27.95 3.68 28.13 3.40 27.89 3.59 27.76 2.99 27.56 3.18 27.59 3.51 27.54
3.63 27.61 3.46 27.46 3.23 27.39 3.30 27.26 2.93 27.23 2.96 27.15 3.34 27.21 3.28 27.05 3.52 27.08 3.65 26.97
3.77 26.98
3.83 28.84 4.10 28.87 4.45 28.53 4.73 28.40 4.70 27.90 4.20 27.92 4.33 27.67 4.37 27.46 4.52 27.43 4.77 27.46
4.92 27.16 4.84 27.08 4.56 27.10 4.92 26.67 4.46 26.69 4.66 26.57 4.71 26.51 4.33 26.52 4.31 26.49 4.46 26.49
4.05 26.46 4.11 26.39 4.42 26.41 3.99 26.61 4.12 26.72 4.15 27.77 3.93 27.79 3.79 27.95 4.04 27.48 4.02 27.31
4.15 27.26 4.09 27.20 3.97 27.56 3.92 27.23 3.87 27.31 3.81 27.05 3.84 26.77
4.68 26.06 4.73 26.05 4.83 26.23 4.93 26.21 4.74 25.88 4.84 25.92 5.06 26.08 5.01 25.95 5.05 25.75 5.11 25.65
5.11 25.59 4.74 25.42 4.76 25.37 4.78 25.26 4.74 25.21 4.80 25.21 4.89 25.34 4.93 25.42 5.01 25.42 5.01 25.34
`;

// Histogram of i-band magnitudes
const SHEN_COUNTS = [1, 0, 1, 0, 1, 1, 0, 1, 1, 1, 1, 2, 2, 3, 5, 7, 10, 22, 15, 27, 15, 22, 41, 38, 68, 82, 97, 101, 112, 147, 188, 194, 162, 226, 277, 259, 288, 320, 342, 442, 426, 392, 27];
const SHEN_BIN_END = 20.33;
const SHEN_BIN_WIDTH = 0.107;
const STUDY_COUNTS = [1, 1, 2, 4, 8, 9, 15, 15, 27, 41, 54, 75, 68, 83, 93, 120, 126, 161, 146, 113, 101, 62, 31, 11, 5, 4];
const STUDY_BIN_START = 17.642;
const STUDY_BIN_WIDTH = 0.216;

// Axis ticks
const TOP_X_TICKS = [3.0, 3.5, 4.0, 4.5, 5.0];
const TOP_Y_TICKS = [-30, -29, -28, -27, -26, -25, -24, -23];
const BOT_X_TICKS = [14, 16, 18, 20, 22, 24, 26];
const BOT_Y_TICKS = [0, 50, 100, 150, 200, 250, 300, 350, 400, 450];

// ---------------- STYLE ----------------
const RED = '#e31a1c';
const ORANGE = '#fd8d3c';
const SANS = "'DejaVu Sans', Verdana, sans-serif";
const SERIF = "'Liberation Serif', 'DejaVu Serif', serif";
const TICK_FS = 24;
const LABEL_FS = 20;

const TOP = { left: 110, right: 558, top: 3, bottom: 490 };
const BOT = { left: 110, right: 558, top: 571, bottom: 896 };

function parsePts(s: string): [number, number][] {
  const v = s.trim().split(/\s+/).map(Number);
  const out: [number, number][] = [];
  for (let i = 0; i + 1 < v.length; i += 2) out.push([v[i], -v[i + 1]]);
  return out;
}

function Frame({ box, xs, ys, xMajor, xMinor, yMajor, yMinor }: any) {
  const MAJ = 8;
  const MIN = 4.5;
  const items: any[] = [];
  let k = 0;
  const addX = (v: number, len: number) => {
    const x = xs(v);
    items.push(<line key={k++} x1={x} x2={x} y1={box.bottom} y2={box.bottom - len} />);
    items.push(<line key={k++} x1={x} x2={x} y1={box.top} y2={box.top + len} />);
  };
  const addY = (v: number, len: number) => {
    const y = ys(v);
    items.push(<line key={k++} x1={box.left} x2={box.left + len} y1={y} y2={y} />);
    items.push(<line key={k++} x1={box.right} x2={box.right - len} y1={y} y2={y} />);
  };
  xMajor.forEach((v: number) => addX(v, MAJ));
  xMinor.forEach((v: number) => addX(v, MIN));
  yMajor.forEach((v: number) => addY(v, MAJ));
  yMinor.forEach((v: number) => addY(v, MIN));
  return (
    <g stroke="#000" strokeWidth={1.8}>
      {items}
      <rect x={box.left} y={box.top} width={box.right - box.left} height={box.bottom - box.top} fill="none" strokeWidth={3.5} />
    </g>
  );
}

export default function App() {
  // ---- top scatter ----
  const xs = d3.scaleLinear().domain([2.8, 5.3]).range([TOP.left, TOP.right]);
  const ys = d3.scaleLinear().domain([-30.5, -22.5]).range([TOP.top, TOP.bottom]);
  const shen = parsePts(SHEN_2007_PTS);
  const study = parsePts(THIS_STUDY_PTS);
  const limitLine = d3
    .line<number>()
    .x((_, i) => xs(LIMIT_Z[i]))
    .y((d) => ys(d))
    .curve(d3.curveMonotoneX)(LIMIT_M) as string;

  const eps = 1e-6;
  const topXMinor = d3.range(28, 54).map((v) => v / 10).filter((v) => !TOP_X_TICKS.some((t) => Math.abs(t - v) < eps) && v > 2.8 + eps && v < 5.3 - eps);
  const topYMinor = d3.range(-152, -112).map((v) => v * 0.2).filter((v) => Math.abs(v - Math.round(v)) > eps);

  // ---- bottom histogram ----
  const xh = d3.scaleLinear().domain([14, 26]).range([BOT.left, BOT.right]);
  const yh = d3.scaleLinear().domain([0, 450]).range([BOT.bottom, BOT.top]);
  const botXMinor = d3.range(29, 52).map((v) => v * 0.5).filter((v) => v % 2 !== 0);
  const botYMinor = d3.range(1, 45).map((v) => v * 10).filter((v) => v % 50 !== 0);

  const stepPath = (start: number, width: number, counts: number[]) => {
    const pts: [number, number][] = [[start, 0]];
    counts.forEach((c, i) => {
      pts.push([start + i * width, c]);
      pts.push([start + (i + 1) * width, c]);
    });
    pts.push([start + counts.length * width, 0]);
    return d3
      .line<[number, number]>()
      .x((d) => xh(d[0]))
      .y((d) => yh(d[1]))(pts) as string;
  };
  const shenStart = SHEN_BIN_END - SHEN_COUNTS.length * SHEN_BIN_WIDTH;
  const shenPath = stepPath(shenStart, SHEN_BIN_WIDTH, SHEN_COUNTS);
  const studyPath = stepPath(STUDY_BIN_START, STUDY_BIN_WIDTH, STUDY_COUNTS);

  const fmt = (v: number) => (v < 0 ? '\u2212' + Math.abs(v) : String(v));

  return (
    <svg width={574} height={968} style={{ position: 'absolute', left: 0, top: 0, background: '#fff' }} fontFamily={SANS}>
      <defs>
        <clipPath id="clipTop">
          <rect x={TOP.left} y={TOP.top} width={TOP.right - TOP.left} height={TOP.bottom - TOP.top} />
        </clipPath>
        <clipPath id="clipBot">
          <rect x={BOT.left} y={BOT.top} width={BOT.right - BOT.left} height={BOT.bottom - BOT.top} />
        </clipPath>
      </defs>
      <rect x={0} y={0} width={574} height={968} fill="#fff" />

      {/* ---------- TOP PANEL ---------- */}
      <g clipPath="url(#clipTop)">
        {shen.map(([z, m], i) => (
          <circle key={'s' + i} cx={xs(z)} cy={ys(m)} r={1.6} fill={RED} />
        ))}
        {study.map(([z, m], i) => (
          <circle key={'t' + i} cx={xs(z)} cy={ys(m)} r={2.5} fill={ORANGE} />
        ))}
        <path d={limitLine} fill="none" stroke="#000" strokeWidth={2.6} />
      </g>
      <Frame box={TOP} xs={xs} ys={ys} xMajor={TOP_X_TICKS} xMinor={topXMinor} yMajor={TOP_Y_TICKS} yMinor={topYMinor} />
      {TOP_X_TICKS.map((v) => (
        <text key={'tx' + v} x={xs(v)} y={522} textAnchor="middle" fontSize={TICK_FS}>
          {v.toFixed(1)}
        </text>
      ))}
      {TOP_Y_TICKS.map((v) => (
        <text key={'ty' + v} x={98} y={ys(v) + 8.7} textAnchor="end" fontSize={TICK_FS}>
          {fmt(v)}
        </text>
      ))}
      <text x={(TOP.left + TOP.right) / 2} y={552} textAnchor="middle" fontSize={LABEL_FS}>
        Redshift
      </text>
      <text transform={`translate(30,${(TOP.top + TOP.bottom) / 2}) rotate(-90)`} textAnchor="middle" fontSize={LABEL_FS}>
        <tspan fontFamily={SERIF} fontStyle="italic" fontSize={24}>M</tspan>
        <tspan fontFamily={SERIF} fontStyle="italic" fontSize={17} dy={4}>i</tspan>
        <tspan fontFamily={SERIF} fontSize={24} dy={-4}>[</tspan>
        <tspan fontFamily={SERIF} fontStyle="italic" fontSize={24}>z</tspan>
        <tspan fontFamily={SERIF} fontSize={24}>=2]</tspan>
        <tspan> (AB mag)</tspan>
      </text>

      {/* top legend */}
      <g>
        <rect x={355} y={380} width={192} height={100} fill="#fff" fillOpacity={0.8} stroke="#b8b8b8" strokeWidth={1.2} />
        <line x1={368} x2={402} y1={397} y2={397} stroke="#000" strokeWidth={2.6} />
        <text x={421} y={405} fontSize={LABEL_FS}>
          <tspan fontFamily={SERIF} fontStyle="italic" fontSize={22}>i</tspan>
          <tspan>=20.2</tspan>
        </text>
        <circle cx={385} cy={430} r={6.5} fill={ORANGE} />
        <text x={424} y={437} fontSize={LABEL_FS}>This study</text>
        <circle cx={385} cy={462} r={6.5} fill={RED} />
        <text x={424} y={468} fontSize={LABEL_FS}>Shen 2007</text>
      </g>

      {/* ---------- BOTTOM PANEL ---------- */}
      <g clipPath="url(#clipBot)">
        <path d={shenPath} fill="none" stroke="#ff0000" strokeWidth={2.6} strokeLinejoin="miter" />
        <path d={studyPath} fill="none" stroke="#ffa500" strokeWidth={2.6} strokeLinejoin="miter" />
      </g>
      <Frame box={BOT} xs={xh} ys={yh} xMajor={BOT_X_TICKS} xMinor={botXMinor} yMajor={BOT_Y_TICKS} yMinor={botYMinor} />
      {BOT_X_TICKS.map((v) => (
        <text key={'bx' + v} x={xh(v)} y={926} textAnchor="middle" fontSize={TICK_FS}>
          {v}
        </text>
      ))}
      {BOT_Y_TICKS.map((v) => (
        <text key={'by' + v} x={98} y={yh(v) + 8.7} textAnchor="end" fontSize={TICK_FS}>
          {v}
        </text>
      ))}
      <text x={(BOT.left + BOT.right) / 2} y={955} textAnchor="middle" fontSize={LABEL_FS}>
        <tspan fontFamily={SERIF} fontStyle="italic" fontSize={22}>i</tspan>
        <tspan>-Magnitude (AB mag)</tspan>
      </text>
      <text transform={`translate(33,${(BOT.top + BOT.bottom) / 2}) rotate(-90)`} textAnchor="middle" fontSize={LABEL_FS}>
        Number of quasars
      </text>

      {/* bottom legend */}
      <g>
        <rect x={122} y={583} width={191} height={69} fill="#fff" fillOpacity={0.8} stroke="#b8b8b8" strokeWidth={1.2} />
        <rect x={129.5} y={592} width={43.5} height={15} fill="none" stroke="#ff0000" strokeWidth={2.6} />
        <text x={191} y={607} fontSize={LABEL_FS}>Shen 2007</text>
        <rect x={129.5} y={623.5} width={43.5} height={15} fill="none" stroke="#ffa500" strokeWidth={2.6} />
        <text x={191} y={638} fontSize={LABEL_FS}>This study</text>
      </g>
    </svg>
  );
}
